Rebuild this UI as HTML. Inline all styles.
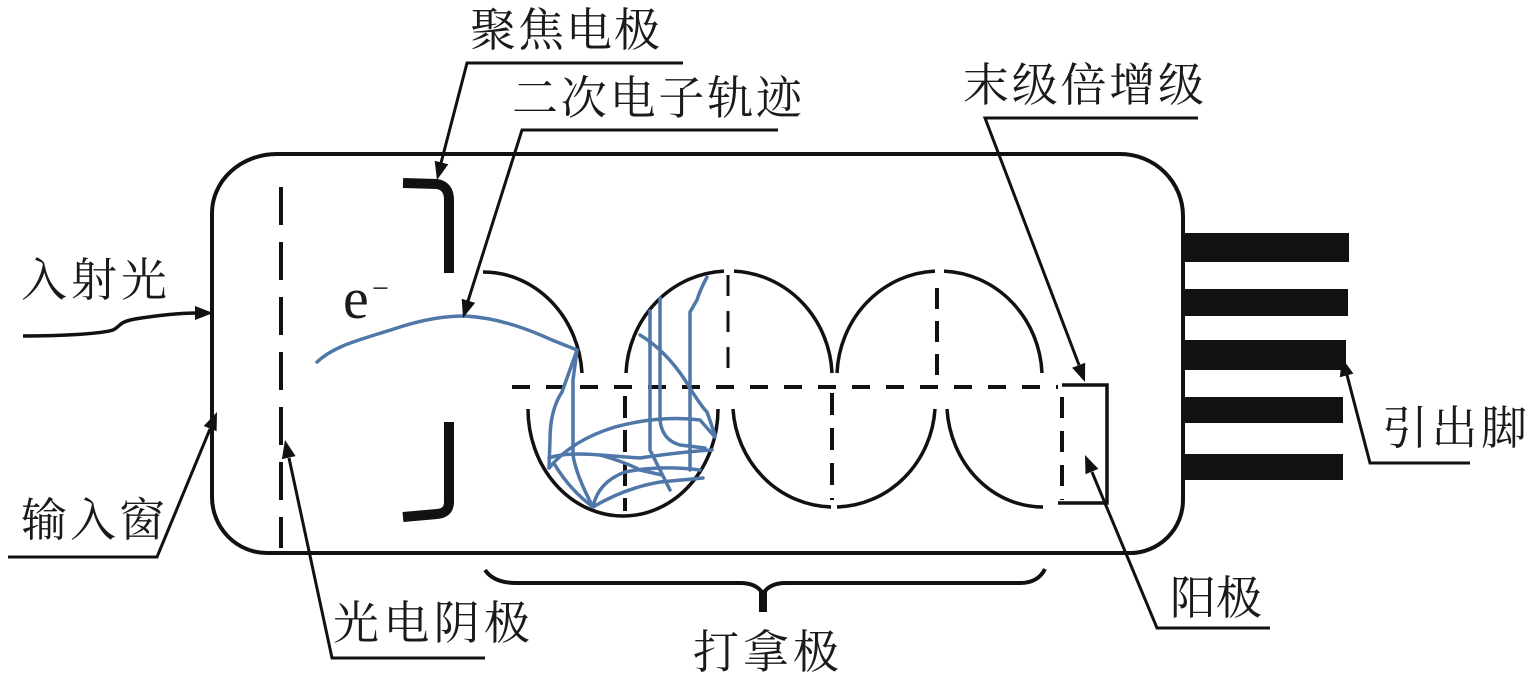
<!DOCTYPE html>
<html>
<head>
<meta charset="utf-8">
<style>
  html,body{margin:0;padding:0;background:#fff;}
  body{width:1535px;height:687px;overflow:hidden;}
  svg{display:block;}
  .t{font-family:"Liberation Serif","Noto Serif CJK SC","Noto Serif CJK",serif;font-size:46px;fill:#1a1a1a;}
</style>
</head>
<body>
<svg width="1535" height="687" viewBox="0 0 1535 687" xmlns="http://www.w3.org/2000/svg">
  <rect width="1535" height="687" fill="#fff"/>

  <!-- Tube outline -->
  <path d="M277,154 H1120 A63 62 0 0 1 1183,216 V500 A53 53 0 0 1 1130,553 H267 A55 56 0 0 1 212,497 V213 A65 59 0 0 1 277,154 Z"
        fill="none" stroke="#111" stroke-width="4"/>

  <!-- Pins -->
  <g fill="#111">
    <rect x="1183" y="233" width="166" height="29"/>
    <rect x="1183" y="289" width="165" height="27"/>
    <rect x="1183" y="340" width="163" height="30"/>
    <rect x="1183" y="397" width="160" height="26"/>
    <rect x="1183" y="454" width="160" height="26"/>
  </g>

  <!-- Photocathode dashed line -->
  <line x1="281" y1="187" x2="281" y2="548" stroke="#111" stroke-width="4" stroke-dasharray="38 17"/>

  <!-- Focus electrode -->
  <g fill="none" stroke="#111" stroke-width="10">
    <path d="M403,183 L437,184 Q449,186 449,200 L449,273"/>
    <path d="M449,422 L449,502 Q449,513 437,514 L403,517"/>
  </g>

  <!-- Dynodes -->
  <g fill="none" stroke="#111" stroke-width="3.5">
    <path d="M483,272 A99 108 0 0 1 582,373"/>
    <path d="M626,373 A103 107 0 0 1 724,271.1"/>
    <path d="M734,271.1 A103 107 0 0 1 832,373"/>
    <path d="M837,373 A102.5 107 0 0 1 935,271.1"/>
    <path d="M944,271.1 A102.5 107 0 0 1 1042,373"/>
    <path d="M528,409 A95 107 0 0 0 718,409"/>
    <path d="M733,409 A101 105 0 0 0 831,507"/>
    <path d="M837,507 A101 105 0 0 0 935,409"/>
    <path d="M947,409 A96 105 0 0 0 1043,507"/>
    <path d="M1062,385 H1107 V503 H1058"/>
  </g>

  <!-- Dashed guide lines -->
  <g fill="none" stroke="#111">
    <line x1="512" y1="387" x2="1058" y2="387" stroke-width="4" stroke-dasharray="18 16"/>
    <line x1="728" y1="275" x2="728" y2="378" stroke-width="3" stroke-dasharray="21 15"/>
    <line x1="937" y1="288" x2="937" y2="380" stroke-width="4" stroke-dasharray="21 12"/>
    <line x1="625" y1="396" x2="625" y2="511" stroke-width="4" stroke-dasharray="22 12"/>
    <line x1="832" y1="393" x2="832" y2="500" stroke-width="4" stroke-dasharray="22 13"/>
    <line x1="1062" y1="397" x2="1062" y2="500" stroke-width="4" stroke-dasharray="21 13"/>
  </g>

  <!-- Electron trajectories (blue) -->
  <g fill="none" stroke="#4f77a8" stroke-width="3.5" stroke-linecap="round" stroke-linejoin="round">
    <path d="M317,362 C335,345 360,340 400,327 C425,319 445,316 465,316 C500,318 530,330 552,340 L577,350"/>
    <path d="M577,350 L562,392 Q550,410 550,440 L549,468"/>
    <path d="M577,350 L573,380 L573,455 Q576,475 593,507"/>
    <path d="M549,468 Q572,440 615,427 Q660,415 700,420 L715,437"/>
    <path d="M549,458 Q565,452 600,455 L640,458 Q680,452 712,450"/>
    <path d="M593,507 Q598,482 625,472 Q660,465 700,470"/>
    <path d="M593,507 Q625,488 660,482 L703,478"/>
    <path d="M650,311 L650,450 Q660,470 670,490"/>
    <path d="M660,298 L660,420 Q662,440 680,445 L705,448"/>
    <path d="M707,277 Q700,290 697,300 L690,312 L690,470"/>
    <path d="M640,335 Q665,350 685,380 Q700,405 707,412 L715,435"/>
    <path d="M600,455 Q625,462 640,470 L662,475"/>
    <path d="M555,465 Q570,490 593,507"/>
  </g>

  <!-- Leader lines -->
  <g fill="none" stroke="#111" stroke-width="3">
    <polyline points="683,63 467,63 441,163"/>
    <polyline points="778,130 522,130 468,301"/>
    <polyline points="1198,118 985,118 1079,365"/>
    <path d="M23,336 C60,336 100,334 113,330 C120,327 118,322 135,319 C160,315 180,313 197,313" stroke-width="3.5"/>
    <polyline points="8,557 157,557 210,429"/>
    <polyline points="485,658 332,658 289,458"/>
    <polyline points="1270,628 1157,628 1092,472"/>
    <polyline points="1470,463 1370,463 1347,375"/>
  </g>

  <!-- Arrowheads -->
  <g fill="#111">
    <polygon points="437,180 448.3,164.3 434.7,160.9"/>
    <polygon points="463,318 475.1,302.9 461.7,298.7"/>
    <polygon points="1085,382 1085.2,362.7 1072.1,367.7"/>
    <polygon points="213,313 195,306 195,320"/>
    <polygon points="217,412 216.6,431.3 203.7,426"/>
    <polygon points="285,440 295.6,456.1 281.9,459.1"/>
    <polygon points="1085,455 1098.4,468.9 1085.5,474.3"/>
    <polygon points="1342,358 1353.4,373.6 1339.8,377.2"/>
  </g>

  <!-- Brace -->
  <path d="M485,570 Q494,583 516,583 L740,583 Q757,583 763,594 Q769,583 786,583 L1020,583 Q1038,583 1045,569"
        fill="none" stroke="#111" stroke-width="4"/>
  <line x1="763" y1="590" x2="763" y2="612" stroke="#111" stroke-width="8"/>

  <!-- Labels -->
  <text class="t" x="470" y="46" textLength="190" lengthAdjust="spacing">聚焦电极</text>
  <text class="t" x="512" y="114" textLength="290" lengthAdjust="spacing">二次电子轨迹</text>
  <text class="t" x="963" y="101" textLength="241" lengthAdjust="spacing">末级倍增级</text>
  <text class="t" x="21" y="296" textLength="146" lengthAdjust="spacing">入射光</text>
  <text class="t" x="21" y="536" textLength="144" lengthAdjust="spacing">输入窗</text>
  <text class="t" x="333" y="639" textLength="197" lengthAdjust="spacing">光电阴极</text>
  <text class="t" x="693" y="668" textLength="146" lengthAdjust="spacing">打拿极</text>
  <text class="t" x="1170" y="614" textLength="92" lengthAdjust="spacing">阳极</text>
  <text class="t" x="1382" y="444" textLength="145" lengthAdjust="spacing">引出脚</text>

  <!-- e- -->
  <text x="343" y="318" style="font-family:'Liberation Serif',serif;font-size:58px;fill:#1a1a1a;">e</text>
  <text x="372" y="298" style="font-family:'Liberation Serif',serif;font-size:30px;fill:#1a1a1a;">−</text>
</svg>
</body>
</html>
